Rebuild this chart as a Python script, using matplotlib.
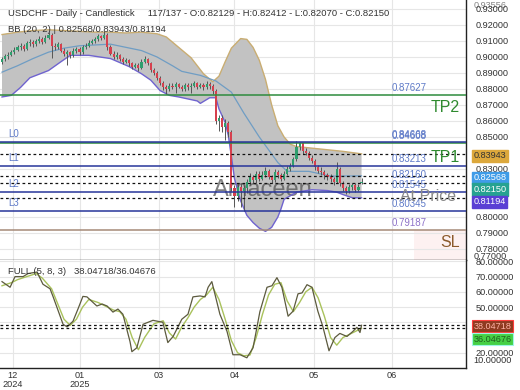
import matplotlib
matplotlib.use("Agg")
import matplotlib.pyplot as plt
import numpy as np

plt.rcParams["font.family"] = ["Liberation Sans", "DejaVu Sans"]

# --- candles (bar index 0..116) ---
opens = [
    0.8970, 0.8985, 0.9005, 0.9015, 0.9030, 0.9045, 0.9060, 0.9070, 0.9050, 0.9085,
    0.9095, 0.9080, 0.9100, 0.9110, 0.9095, 0.9120, 0.9140, 0.9070, 0.9060, 0.9080,
    0.9040, 0.9020, 0.9030, 0.9010, 0.9040, 0.9050, 0.9030, 0.9060, 0.9070, 0.9090,
    0.9100, 0.9110, 0.9130, 0.9120, 0.9140, 0.9060, 0.9020, 0.9000, 0.9010, 0.8990,
    0.8970, 0.8980, 0.8960, 0.8940, 0.8950, 0.8930, 0.8970, 0.8990, 0.8960, 0.8920,
    0.8900, 0.8870, 0.8840, 0.8810, 0.8800, 0.8820, 0.8810, 0.8830, 0.8815, 0.8800,
    0.8825, 0.8810, 0.8820, 0.8835, 0.8815, 0.8825, 0.8810, 0.8830, 0.8820, 0.8790,
    0.8600, 0.8620, 0.8560, 0.8590, 0.8530, 0.8180, 0.8130, 0.8190, 0.8160, 0.8180,
    0.8220, 0.8250, 0.8230, 0.8270, 0.8240, 0.8260, 0.8290, 0.8250, 0.8230, 0.8280,
    0.8260, 0.8240, 0.8270, 0.8300, 0.8320, 0.8360, 0.8440, 0.8460, 0.8410, 0.8400,
    0.8370, 0.8350, 0.8310, 0.8290, 0.8280, 0.8260, 0.8250, 0.8240, 0.8220, 0.8300,
    0.8210, 0.8180, 0.8160, 0.8190, 0.8200, 0.8170, 0.82129,
]
highs = [
    0.9000, 0.9020, 0.9030, 0.9045, 0.9060, 0.9075, 0.9090, 0.9080, 0.9100, 0.9110,
    0.9105, 0.9115, 0.9130, 0.9125, 0.9135, 0.9155, 0.9150, 0.9090, 0.9095, 0.9090,
    0.9055, 0.9045, 0.9040, 0.9055, 0.9065, 0.9060, 0.9075, 0.9085, 0.9105, 0.9115,
    0.9125, 0.9145, 0.9140, 0.9160, 0.9150, 0.9075, 0.9035, 0.9030, 0.9020, 0.9000,
    0.8995, 0.8990, 0.8970, 0.8965, 0.8960, 0.8985, 0.9005, 0.8995, 0.8970, 0.8930,
    0.8910, 0.8880, 0.8850, 0.8825, 0.8840, 0.8835, 0.8845, 0.8840, 0.8825, 0.8840,
    0.8835, 0.8835, 0.8850, 0.8845, 0.8840, 0.8835, 0.8850, 0.8845, 0.8830, 0.8800,
    0.8640, 0.8635, 0.8610, 0.8600, 0.8545, 0.8200, 0.8210, 0.8215, 0.8200, 0.8240,
    0.8275, 0.8265, 0.8290, 0.8285, 0.8285, 0.8315, 0.8300, 0.8265, 0.8300, 0.8295,
    0.8275, 0.8290, 0.8320, 0.8335, 0.8375, 0.8475, 0.8470, 0.8465, 0.8430, 0.8410,
    0.8385, 0.8365, 0.8325, 0.8310, 0.8295, 0.8275, 0.8270, 0.8250, 0.8345, 0.8310,
    0.8225, 0.8195, 0.8205, 0.8215, 0.8210, 0.8205, 0.82412,
]
lows = [
    0.8955, 0.8975, 0.8990, 0.9005, 0.9020, 0.9035, 0.9045, 0.9035, 0.9045, 0.9070,
    0.9065, 0.9070, 0.9090, 0.9080, 0.9085, 0.9110, 0.8995, 0.9045, 0.9050, 0.9030,
    0.9005, 0.8950, 0.8995, 0.9000, 0.9025, 0.9015, 0.9020, 0.9050, 0.9060, 0.9080,
    0.9090, 0.9100, 0.9105, 0.9110, 0.9045, 0.9010, 0.8985, 0.8990, 0.8975, 0.8955,
    0.8960, 0.8945, 0.8925, 0.8930, 0.8915, 0.8925, 0.8960, 0.8950, 0.8905, 0.8885,
    0.8855, 0.8825, 0.8795, 0.8770, 0.8790, 0.8800, 0.8775, 0.8805, 0.8785, 0.8790,
    0.8795, 0.8775, 0.8810, 0.8800, 0.8805, 0.8795, 0.8800, 0.8800, 0.8770, 0.8580,
    0.8540, 0.8530, 0.8480, 0.8500, 0.8160, 0.8060, 0.8100, 0.8060, 0.8040, 0.8150,
    0.8200, 0.8210, 0.8215, 0.8225, 0.8230, 0.8250, 0.8235, 0.8210, 0.8220, 0.8245,
    0.8225, 0.8230, 0.8260, 0.8285, 0.8310, 0.8350, 0.8420, 0.8395, 0.8385, 0.8355,
    0.8335, 0.8295, 0.8275, 0.8260, 0.8240, 0.8230, 0.8220, 0.8200, 0.8210, 0.8195,
    0.8165, 0.8145, 0.8150, 0.8170, 0.8155, 0.8160, 0.82070,
]
closes = [
    0.8985, 0.9005, 0.9015, 0.9030, 0.9045, 0.9060, 0.9070, 0.9050, 0.9085, 0.9095,
    0.9080, 0.9100, 0.9110, 0.9095, 0.9120, 0.9140, 0.9070, 0.9060, 0.9080, 0.9040,
    0.9020, 0.9030, 0.9010, 0.9040, 0.9050, 0.9030, 0.9060, 0.9070, 0.9090, 0.9100,
    0.9110, 0.9130, 0.9120, 0.9140, 0.9060, 0.9020, 0.9000, 0.9010, 0.8990, 0.8970,
    0.8980, 0.8960, 0.8940, 0.8950, 0.8930, 0.8970, 0.8990, 0.8960, 0.8920, 0.8900,
    0.8870, 0.8840, 0.8810, 0.8800, 0.8820, 0.8810, 0.8830, 0.8815, 0.8800, 0.8825,
    0.8810, 0.8820, 0.8835, 0.8815, 0.8825, 0.8810, 0.8830, 0.8820, 0.8790, 0.8600,
    0.8620, 0.8560, 0.8590, 0.8530, 0.8180, 0.8130, 0.8190, 0.8160, 0.8180, 0.8220,
    0.8250, 0.8230, 0.8270, 0.8240, 0.8260, 0.8290, 0.8250, 0.8230, 0.8280, 0.8260,
    0.8240, 0.8270, 0.8300, 0.8320, 0.8360, 0.8440, 0.8460, 0.8410, 0.8400, 0.8370,
    0.8350, 0.8310, 0.8290, 0.8280, 0.8260, 0.8250, 0.8240, 0.8220, 0.8300, 0.8210,
    0.8180, 0.8160, 0.8190, 0.8200, 0.8170, 0.8190, 0.82150,
]

# --- Bollinger bands (20, 2) ---
bb_upper_bar = [0, 5, 10, 15, 20, 25, 30, 35, 40, 45, 50, 53, 57, 61, 65, 68, 70, 72,
                74, 77, 79, 81, 83, 85, 87, 89, 91, 93, 95, 100, 105, 110, 116]
bb_upper = [0.9140, 0.9155, 0.9165, 0.9170, 0.9165, 0.9160, 0.9155, 0.9155, 0.9150,
            0.9155, 0.9145, 0.9125, 0.9060, 0.8995, 0.8895, 0.8845, 0.8880, 0.8970,
            0.9055, 0.9115, 0.9110, 0.9060, 0.8980, 0.8860, 0.8700, 0.8570, 0.8500,
            0.8455, 0.8440, 0.8430, 0.8420, 0.8410, 0.83943]
bb_mid_bar = [0, 5, 10, 15, 20, 25, 30, 35, 40, 45, 50, 55, 58, 64, 69, 74, 78, 83,
              89, 92, 99, 106, 116]
bb_mid = [0.8905, 0.8945, 0.8990, 0.9030, 0.9055, 0.9070, 0.9075, 0.9080, 0.9060,
          0.9040, 0.9000, 0.8945, 0.8910, 0.8885, 0.8850, 0.8780, 0.8650, 0.8500,
          0.8340, 0.8285, 0.8285, 0.8255, 0.82568]
bb_low_bar = [0, 3, 6, 9, 15, 19, 22, 28, 35, 41, 45, 48, 51, 54, 57, 63, 64, 67, 69,
              70, 72, 73, 74, 75, 77, 79, 81, 83, 85, 87, 89, 90, 91, 95, 100, 105,
              108, 110, 113, 116]
bb_low = [0.8750, 0.8760, 0.8810, 0.8870, 0.8915, 0.8970, 0.9010, 0.9010, 0.8990,
          0.8940, 0.8895, 0.8855, 0.8790, 0.8760, 0.8750, 0.8725, 0.8710, 0.8745,
          0.8745, 0.8675, 0.8590, 0.8510, 0.8380, 0.8240, 0.8100, 0.8010, 0.7965,
          0.7930, 0.7910, 0.7935, 0.8000, 0.8050, 0.8110, 0.8155, 0.8170, 0.8165,
          0.8155, 0.8140, 0.8120, 0.81194]

# --- stochastic FULL(5, 8, 3) ---
stoch_k_bar = [0, 2.6, 4.2, 6.8, 8.4, 11.3, 13.2, 15.5, 16.5, 19.7, 21, 22.9, 24.5,
               26.1, 27.4, 30.6, 32.3, 33.9, 35.8, 37.4, 39, 41.3, 41.9, 43.5, 45.5,
               48.7, 51.9, 53.5, 55.2, 58, 60, 61.6, 63.9, 65.5, 66.5, 67.7, 70.3,
               72.6, 74.5, 76.8, 79, 81, 83.2, 85.5, 87.1, 88.7, 90.3, 92.3, 93.9,
               95.5, 96.8, 98.4, 100, 101.9, 103.5, 105.5, 107.4, 109, 111.3, 113.2,
               114.5, 115.5, 116]
stoch_k = [66.7, 63, 70, 70, 72, 73, 65, 62, 56.7, 38.7, 37, 40.7, 48.7, 57, 56.7,
           50.7, 52, 50.7, 46.7, 48.7, 45.3, 27.3, 20.7, 23.3, 38.7, 41.3, 40, 26.7,
           30.7, 42, 45.3, 56.7, 57.3, 56.7, 63, 66.7, 45.3, 34, 18.7, 18.7, 16.7,
           23.3, 47, 63, 64, 69.3, 63, 44, 47.3, 58.7, 59.3, 64.7, 63, 47.3, 37.3,
           21.3, 30, 32.7, 30.7, 34, 36.7, 33.3, 38.04718]
stoch_d_bar = [0, 3, 5, 8, 11, 13, 16, 18, 20, 22, 24, 26, 28, 31, 33, 36, 38, 40,
               42, 44, 46, 49, 52, 54, 56, 58, 60, 62, 64, 66, 68, 70, 72, 74, 76,
               78, 80, 82, 84, 86, 88, 90, 92, 94, 96, 98, 100, 102, 104, 106, 108,
               110, 112, 114, 116]
stoch_d = [64, 66, 68, 70, 72, 69, 62, 52, 42, 38, 42, 50, 55, 53, 51, 48, 47, 42,
           30, 22, 30, 39, 41, 33, 29, 37, 43, 50, 55, 58, 63, 55, 42, 28, 20, 18,
           18.5, 30, 45, 58, 65, 66, 54, 47, 53, 60, 63, 56, 44, 30, 25, 30, 32, 34,
           36.04676]

# --- levels ---
navy_levels = [0.84668, 0.83213, 0.81545, 0.80345]
navy_names = ["L0", "L1", "L2", "L3"]
green_levels = [0.87627, 0.84608]
sl_level = 0.79187
at_price_level = 0.82160
bb_now = {"upper": 0.83943, "mid": 0.82568, "lower": 0.81194}
last_close = 0.82150
stoch_now = [38.04718, 36.04676]

month_bars = [3.5, 25, 50.5, 75, 100.5, 125.8]
month_labels = ["12\n2024", "01\n2025", "03", "04", "05", "06"]

W, H = 520, 390


def frame(left, top, right, bottom):
    return [left / W, 1 - bottom / H, (right - left) / W, (bottom - top) / H]


fig = plt.figure(figsize=(W / 100, H / 100), dpi=100)
ax = fig.add_axes(frame(0, 0, 466, 260))
axs = fig.add_axes(frame(0, 260, 466, 368))

XLIM = (-0.65, 149.7)
TXT = "#333333"
FS = 6.6

for a in (ax, axs):
    a.set_xlim(*XLIM)
    a.yaxis.tick_right()
    a.tick_params(axis="y", length=0, pad=7, labelsize=FS, labelcolor=TXT)
    a.set_xticks(month_bars)
    a.grid(True, color="#e6e6e6", lw=0.8, zorder=0)
    a.set_axisbelow(True)
    for s in ("left", "top"):
        a.spines[s].set_visible(False)
    for s in ("right", "bottom"):
        a.spines[s].set_color("#222222")
        a.spines[s].set_linewidth(1.0)

# ---------------- main panel ----------------
ax.set_ylim(0.7731, 0.9356)
yt = [0.78, 0.79, 0.80, 0.83, 0.85, 0.86, 0.87, 0.88, 0.89, 0.90, 0.91, 0.92, 0.93]
ax.set_yticks(yt)
ax.set_yticklabels([f"{v:.5f}" for v in yt])
ax.tick_params(axis="x", length=0, labelbottom=False)

# Bollinger band cloud as one polygon through the sampled edges
poly_x = np.r_[bb_upper_bar, bb_low_bar[::-1]]
poly_y = np.r_[bb_upper, bb_low[::-1]]
ax.fill(poly_x, poly_y, color="#c2c2c2", lw=0, zorder=1)
ax.plot(bb_upper_bar, bb_upper, color="#c9ad72", lw=1.0, zorder=2)
ax.plot(bb_low_bar, bb_low, color="#6f63cf", lw=1.0, zorder=2)
ax.plot(bb_mid_bar, bb_mid, color="#6f9dc4", lw=0.9, zorder=2)

# faint shading behind the SL tag
ax.fill_between([133, XLIM[1]], 0.7731, 0.7920, color="#fdf1f1", lw=0, zorder=0.5)

# watermark sits under the candles
ax.text(68, 0.8169, "Amaceen", fontsize=17, color="#555555", alpha=0.75,
        va="center", ha="left", zorder=1.5)

bars = np.arange(len(closes))
o, h, l, c = map(np.asarray, (opens, highs, lows, closes))
up = c >= o
ax.vlines(bars, l, h, color="#555555", lw=0.7, zorder=3)
ax.bar(bars, np.maximum(np.abs(c - o), 0.0003), bottom=np.minimum(o, c), width=0.68,
       color=np.where(up, "#2f9e6e", "#d6404e"), lw=0, zorder=4)

# horizontal levels
LVL = "#5e7ac8"
ax.axhline(green_levels[0], color="#2e8b3d", lw=1.1, zorder=5)
ax.axhline(green_levels[1], color="#2e8b3d", lw=1.1, zorder=5)
for v, name in zip(navy_levels, navy_names):
    ax.axhline(v, color="#27359a", lw=1.1, zorder=5)
    ax.annotate(name, (2, v), xytext=(0, 3), textcoords="offset pixels",
                fontsize=FS + 0.4, color=LVL, va="bottom", ha="left", zorder=6)
ax.axhline(sl_level, color="#a58a78", lw=1.1, zorder=5)

for v in (bb_now["upper"], bb_now["mid"], last_close, bb_now["lower"]):
    ax.axhline(v, color="#111111", lw=0.9, ls=(0, (2.2, 2.2)), zorder=5)

right_labels = [(0.87627, LVL), (0.84668, LVL), (0.84608, LVL), (0.83213, LVL),
                (at_price_level, LVL), (0.81545, LVL), (0.80345, LVL), (sl_level, "#8e72c9")]
for v, col in right_labels:
    ax.annotate(f"{v:.5f}", (125.8, v), xytext=(0, 2), textcoords="offset pixels",
                fontsize=FS + 0.4, color=col, va="bottom", ha="left", zorder=6)

ax.annotate("TP2", (147.8, green_levels[0]), xytext=(0, -13), textcoords="offset pixels",
            fontsize=11.5, color="#2f8a2f", va="center", ha="right", zorder=6)
ax.annotate("TP1", (147.8, navy_levels[0]), xytext=(0, -15), textcoords="offset pixels",
            fontsize=11.5, color="#2f8a2f", va="center", ha="right", zorder=6)
ax.annotate("At Price", (128.5, at_price_level), xytext=(0, -14), textcoords="offset pixels",
            fontsize=11.5, color="#8a8a8a", va="center", ha="left", zorder=6,
            annotation_clip=False, clip_on=True)
ax.annotate("SL", (147.8, sl_level), xytext=(0, -13), textcoords="offset pixels",
            fontsize=11.5, color="#8b5a2b", va="center", ha="right", zorder=6)

# right-edge value boxes (nudged apart like the terminal does)
boxes = [(bb_now["upper"], -2, "#dca83c", TXT),
         (bb_now["mid"], -2, "#3f9ce8", "white"),
         (last_close, -7, "#26a291", "white"),
         (bb_now["lower"], -4, "#5a3fd4", "white")]
ytrans = ax.get_yaxis_transform()
for v, dy, fc, tc in boxes:
    ax.annotate(f"{v:.5f}", (1.016, v), xycoords=ytrans, xytext=(0, dy),
                textcoords="offset pixels", fontsize=FS, color=tc, va="center",
                ha="left", annotation_clip=False, zorder=7,
                bbox=dict(boxstyle="square,pad=0.18", fc=fc, ec=fc))
ax.text(1.016, 0.7750, "0.77000", transform=ytrans, fontsize=FS, color=TXT,
        va="center", ha="left", clip_on=False)
ax.text(1.016, 0.9320, "0.93556", transform=ytrans, fontsize=FS, color=TXT,
        va="center", ha="left", clip_on=False, alpha=0.6)

fig.text(8 / W, 1 - 13 / H,
         "USDCHF - Daily - Candlestick     117/137 - O:0.82129 - H:0.82412 - L:0.82070 - C:0.82150",
         fontsize=FS + 0.2, color=TXT, va="center", ha="left")
fig.text(8 / W, 1 - 29 / H, "BB (20, 2) | 0.82568/0.83943/0.81194",
         fontsize=FS + 0.2, color=TXT, va="center", ha="left")

# ---------------- stochastic panel ----------------
axs.set_ylim(10, 80.9)
st = [20, 30, 40, 50, 60, 70, 80]
axs.set_yticks(st)
axs.set_yticklabels([f"{v:.5f}" for v in st])
axs.set_xticklabels(month_labels, fontsize=FS, color=TXT, linespacing=1.0)
axs.tick_params(axis="x", length=0, pad=2)
axs.spines["top"].set_visible(False)

axs.plot(stoch_d_bar, stoch_d, color="#a9c25c", lw=1.0, zorder=3)
axs.plot(stoch_k_bar, stoch_k, color="#5c5a3e", lw=0.9, zorder=4)
for v in stoch_now:
    axs.axhline(v, color="#111111", lw=0.9, ls=(0, (2.2, 2.2)), zorder=5)

strans = axs.get_yaxis_transform()
axs.annotate(f"{stoch_now[0]:.5f}", (1.016, stoch_now[0]), xycoords=strans, xytext=(0, -1),
             textcoords="offset pixels", fontsize=FS, color="#ffb3a6", va="center", ha="left",
             annotation_clip=False, zorder=7,
             bbox=dict(boxstyle="square,pad=0.18", fc="#8e3a20", ec="#ff3b3b", lw=0.8))
axs.annotate(f"{stoch_now[1]:.5f}", (1.016, stoch_now[1]), xycoords=strans, xytext=(0, -11),
             textcoords="offset pixels", fontsize=FS, color="#1f5f1f", va="center", ha="left",
             annotation_clip=False, zorder=7,
             bbox=dict(boxstyle="square,pad=0.18", fc="#45d045", ec="#9ff5e8", lw=0.8))
axs.text(1.016, 15.0, "10.00000", transform=strans, fontsize=FS, color=TXT,
         va="center", ha="left", clip_on=False)
fig.text(8 / W, 1 - 272 / H, "FULL (5, 8, 3)   38.04718/36.04676",
         fontsize=FS + 0.2, color=TXT, va="center", ha="left")

fig.savefig("out.png", dpi=100)
